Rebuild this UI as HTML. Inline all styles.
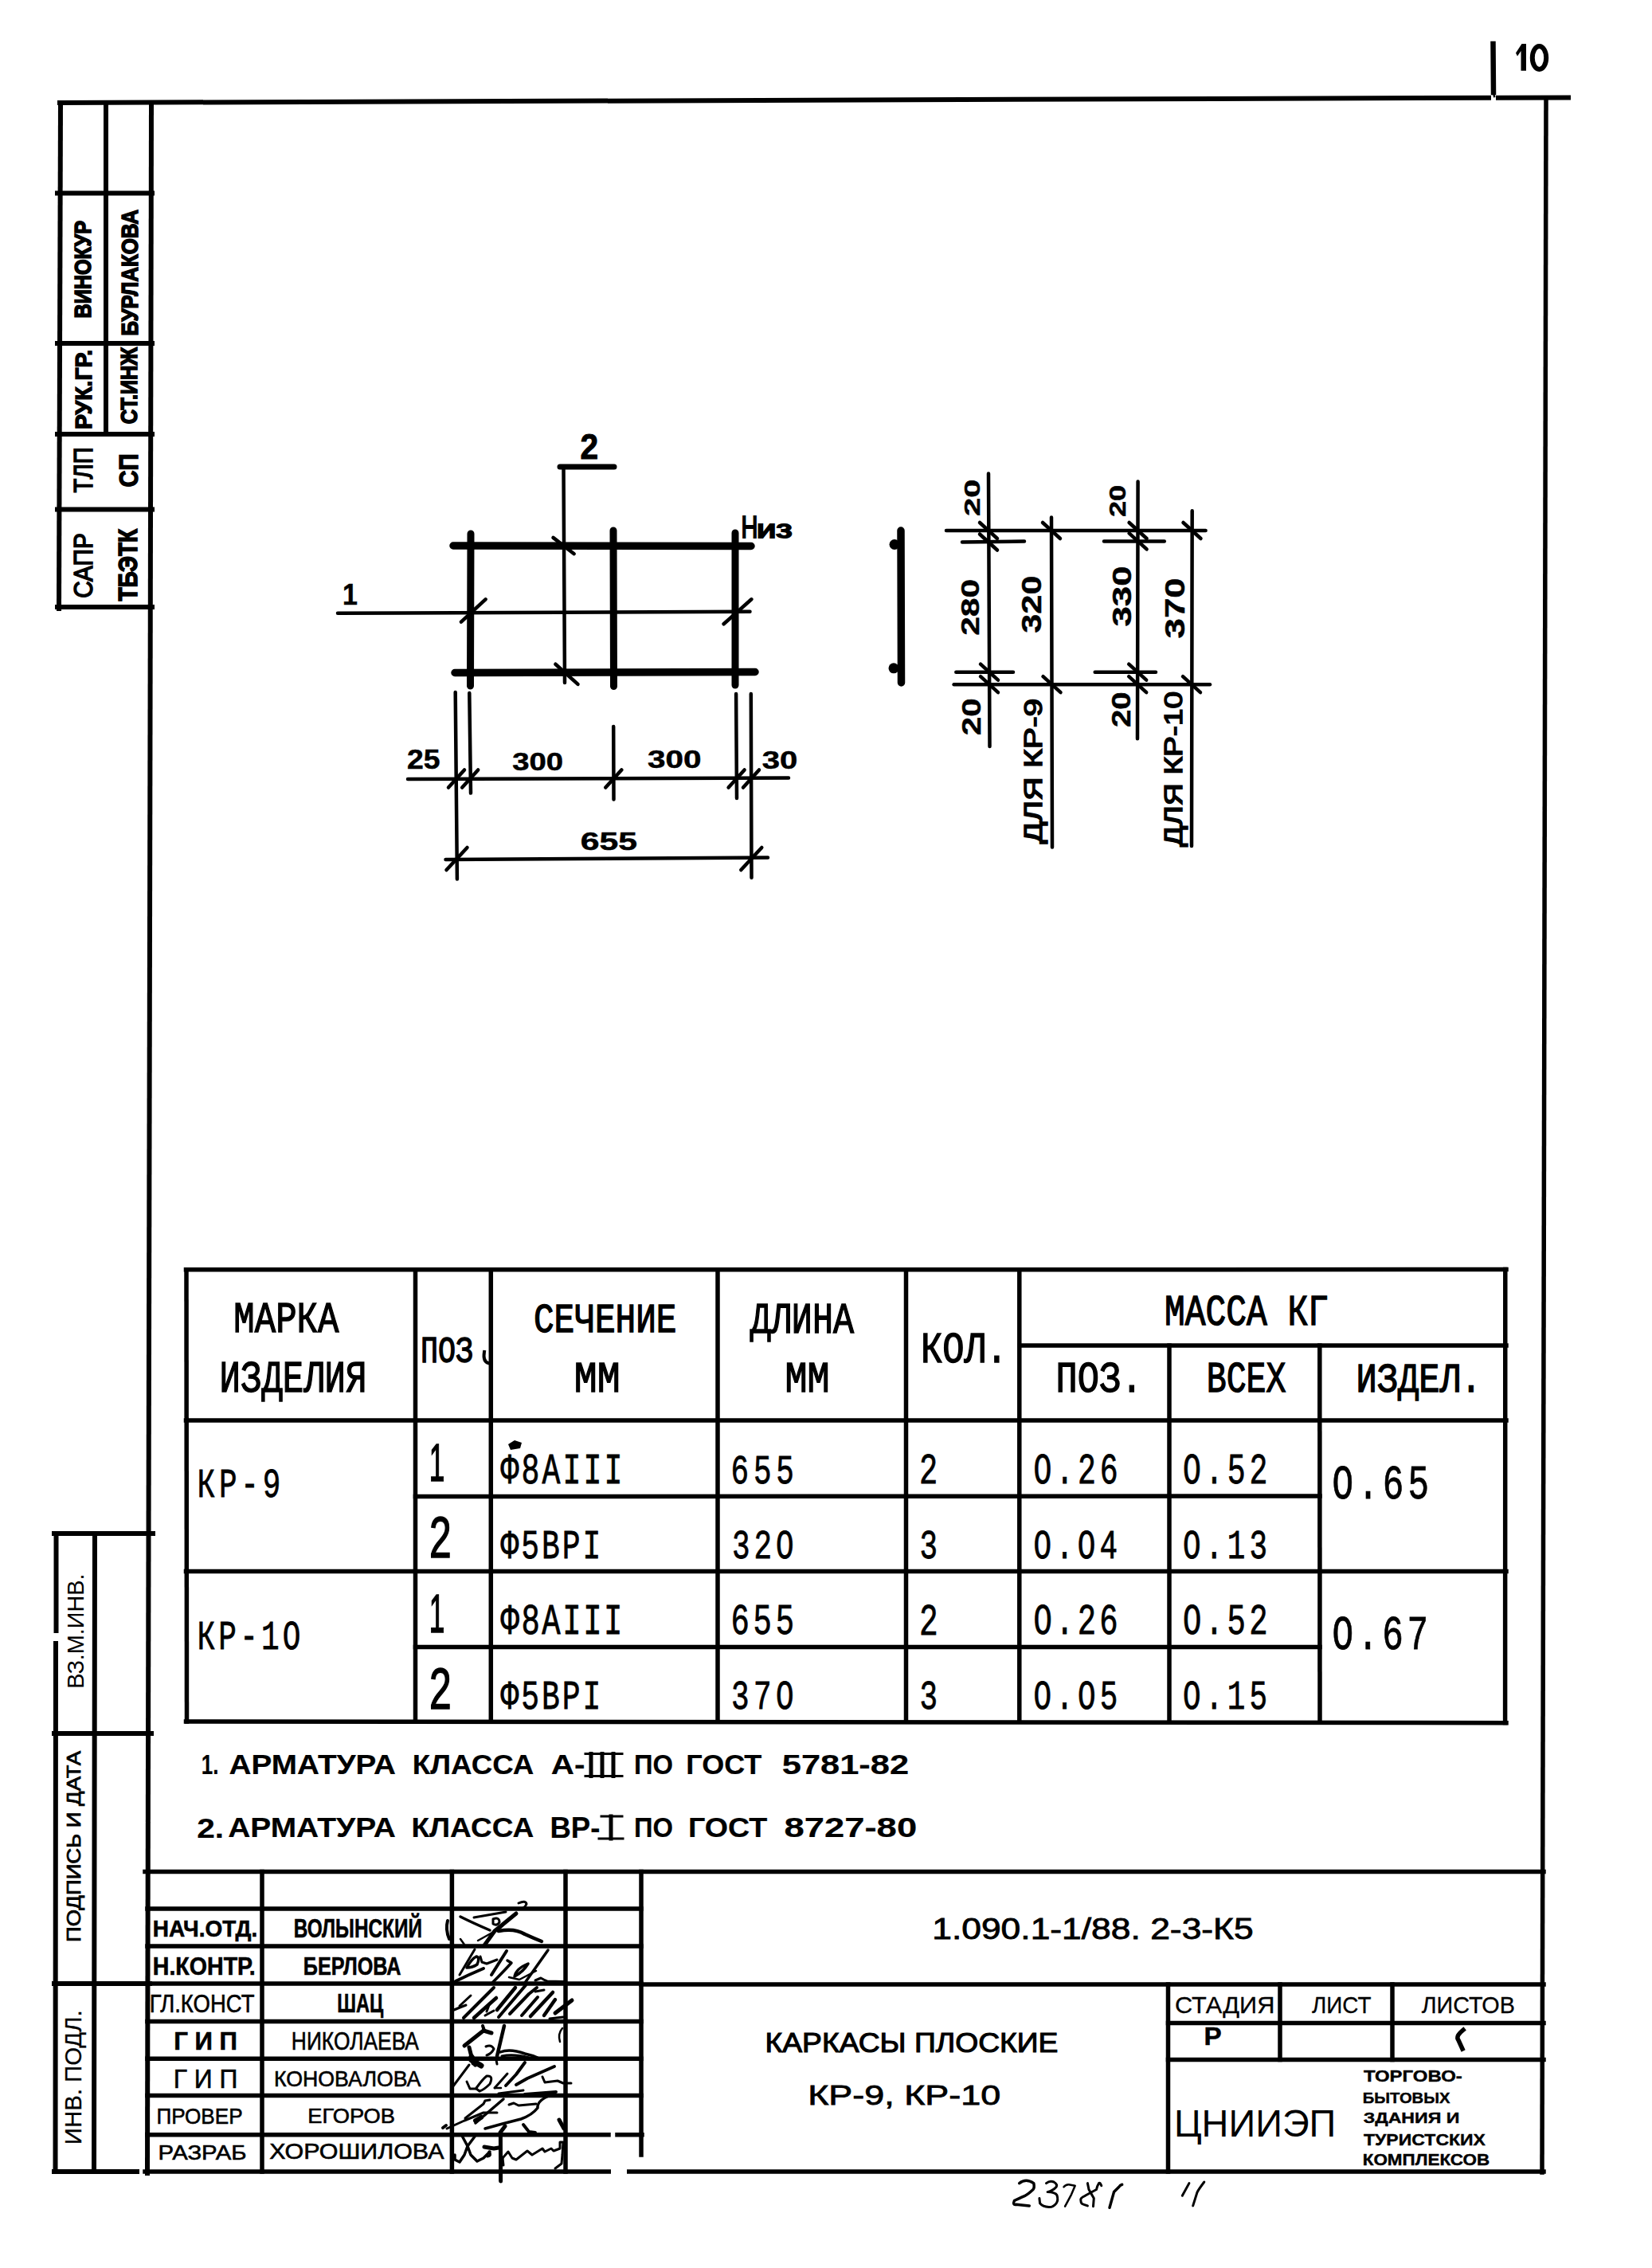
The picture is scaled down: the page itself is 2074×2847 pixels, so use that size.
<!DOCTYPE html>
<html><head><meta charset="utf-8"><style>
html,body{margin:0;padding:0;background:#fff;}
svg{display:block;}
</style></head><body>
<svg width="2074" height="2847" viewBox="0 0 2074 2847" stroke="#000" stroke-linecap="square" fill="#000">
<line x1="75" y1="129" x2="1869" y2="122.8" stroke-width="6"/>
<line x1="1881" y1="122.8" x2="1969" y2="122.6" stroke-width="6"/>
<line x1="1874.5" y1="55" x2="1875" y2="116" stroke-width="6.5"/>
<line x1="1875" y1="116" x2="1876" y2="121" stroke-width="2.5"/>
<path d="M1903,66.5 L1910.5,55 L1916,55 L1916,88.7 L1909.5,88.7 L1909.5,64 L1905,70.5 Z" stroke="none"/>
<ellipse cx="1932.5" cy="72.5" rx="8.7" ry="14.5" fill="none" stroke-width="6"/>
<line x1="1941" y1="123" x2="1936" y2="2727" stroke-width="5.5"/>
<line x1="190" y1="129" x2="185" y2="2728" stroke-width="6"/>
<line x1="182" y1="2726" x2="1938" y2="2726" stroke-width="5.5"/>
<line x1="76" y1="129" x2="74" y2="764" stroke-width="6"/>
<line x1="133" y1="129" x2="133" y2="545" stroke-width="6"/>
<line x1="72" y1="242.5" x2="191" y2="242.5" stroke-width="6"/>
<line x1="72" y1="431" x2="191" y2="431" stroke-width="6"/>
<line x1="72" y1="545" x2="191" y2="545" stroke-width="6"/>
<line x1="72" y1="639.5" x2="191" y2="639.5" stroke-width="6"/>
<line x1="72" y1="762" x2="191" y2="762" stroke-width="6"/>
<text transform="translate(113.92,398.6) rotate(-90)" x="-0.89" y="0" font-family='"Liberation Sans", sans-serif' font-size="28.81" font-weight="bold" stroke="#000" stroke-width="1.6" textLength="122.56" lengthAdjust="spacingAndGlyphs">ВИНОКУР</text>
<text transform="translate(172.61,420.5) rotate(-90)" x="-0.89" y="0" font-family='"Liberation Sans", sans-serif' font-size="29.80" font-weight="bold" stroke="#000" stroke-width="1.6" textLength="158.26" lengthAdjust="spacingAndGlyphs">БУРЛАКОВА</text>
<text transform="translate(115.00,538) rotate(-90)" x="-1.12" y="0" font-family='"Liberation Sans", sans-serif' font-size="30.24" font-weight="bold" stroke="#000" stroke-width="1.4" textLength="100.29" lengthAdjust="spacingAndGlyphs">РУК.ГР.</text>
<text transform="translate(171.91,532) rotate(-90)" x="-0.20" y="0" font-family='"Liberation Sans", sans-serif' font-size="29.52" font-weight="bold" stroke="#000" stroke-width="1.6" textLength="96.28" lengthAdjust="spacingAndGlyphs">СТ.ИНЖ</text>
<text transform="translate(115.99,618.5) rotate(-90)" x="0.11" y="0" font-family='"Liberation Sans", sans-serif' font-size="33.92" font-weight="normal" stroke="#000" stroke-width="1.5" textLength="56.91" lengthAdjust="spacingAndGlyphs">ТЛП</text>
<text transform="translate(172.97,611) rotate(-90)" x="-0.50" y="0" font-family='"Liberation Sans", sans-serif' font-size="33.62" font-weight="bold" stroke="#000" stroke-width="1.4" textLength="42.05" lengthAdjust="spacingAndGlyphs">СП</text>
<text transform="translate(115.92,750) rotate(-90)" x="-0.74" y="0" font-family='"Liberation Sans", sans-serif' font-size="33.33" font-weight="normal" stroke="#000" stroke-width="1.5" textLength="81.54" lengthAdjust="spacingAndGlyphs">САПР</text>
<text transform="translate(171.88,755) rotate(-90)" x="0.49" y="0" font-family='"Liberation Sans", sans-serif' font-size="33.05" font-weight="bold" stroke="#000" stroke-width="1.6" textLength="90.67" lengthAdjust="spacingAndGlyphs">ТБЭТК</text>
<line x1="70.5" y1="1925" x2="70.5" y2="2047" stroke-width="6"/>
<line x1="70" y1="2063" x2="69.5" y2="2726" stroke-width="6"/>
<line x1="119" y1="1925" x2="118" y2="2726" stroke-width="6"/>
<line x1="68" y1="1925" x2="192" y2="1925" stroke-width="6"/>
<line x1="68" y1="2176" x2="190" y2="2176" stroke-width="6"/>
<line x1="68" y1="2490" x2="188" y2="2490" stroke-width="6"/>
<line x1="68" y1="2726" x2="172" y2="2726" stroke-width="6"/>
<text transform="translate(105.41,2117.5) rotate(-90)" x="-2.35" y="0" font-family='"Liberation Sans", sans-serif' font-size="29.68" font-weight="normal" stroke="none" textLength="144.46" lengthAdjust="spacingAndGlyphs">ВЗ.М.ИНВ.</text>
<text transform="translate(101.10,2436.3) rotate(-90)" x="-1.79" y="0" font-family='"Liberation Sans", sans-serif' font-size="24.27" font-weight="normal" stroke="#000" stroke-width="0.8" textLength="240.04" lengthAdjust="spacingAndGlyphs">ПОДПИСЬ И ДАТА</text>
<text transform="translate(101.85,2689.9) rotate(-90)" x="-2.25" y="0" font-family='"Liberation Sans", sans-serif' font-size="29.80" font-weight="normal" stroke="#000" stroke-width="0.3" textLength="168.77" lengthAdjust="spacingAndGlyphs">ИНВ. ПОДЛ.</text>
<g stroke-linecap="round">
<line x1="569" y1="685" x2="943" y2="685.5" stroke-width="9.5"/>
<line x1="571" y1="844.5" x2="948" y2="843.5" stroke-width="9.5"/>
<line x1="591" y1="670" x2="590.5" y2="861" stroke-width="9"/>
<line x1="770" y1="666" x2="770.5" y2="861.5" stroke-width="9"/>
<line x1="923" y1="669" x2="923" y2="860" stroke-width="9"/>
<line x1="707.5" y1="586" x2="709" y2="857" stroke-width="4.5"/>
<line x1="703" y1="586" x2="771" y2="586" stroke-width="7"/>
<text x="728.49" y="576.40" font-family='"Liberation Sans", sans-serif' font-size="43.82" font-weight="bold" stroke="#000" stroke-width="1" textLength="22.64" lengthAdjust="spacingAndGlyphs">2</text>
<line x1="424" y1="769.7" x2="941.5" y2="767.8" stroke-width="4.5"/>
<text x="430.11" y="758.55" font-family='"Liberation Sans", sans-serif' font-size="37.21" font-weight="bold" stroke="#000" stroke-width="0.5" textLength="18.88" lengthAdjust="spacingAndGlyphs">1</text>
<text x="930.42" y="674.80" font-family='"Liberation Sans", sans-serif' font-size="38.95" font-weight="normal" stroke="#000" stroke-width="2" textLength="20.94" lengthAdjust="spacingAndGlyphs">Н</text>
<text x="949.97" y="674.50" font-family='"Liberation Sans", sans-serif' font-size="30.67" font-weight="normal" stroke="#000" stroke-width="2" textLength="44.48" lengthAdjust="spacingAndGlyphs">из</text>
<line x1="579" y1="780.6" x2="609.6" y2="752.3" stroke-width="4.5"/>
<line x1="908.6" y1="783.3" x2="943.4" y2="752.3" stroke-width="4.5"/>
<line x1="694.5" y1="674.9" x2="720.7" y2="695.2" stroke-width="4.5"/>
<line x1="697.4" y1="833.7" x2="725.5" y2="858.9" stroke-width="4.5"/>
<line x1="571.7" y1="869" x2="573.9" y2="1103.6" stroke-width="4.5"/>
<line x1="589.3" y1="870" x2="591" y2="995.6" stroke-width="4.5"/>
<line x1="770.2" y1="912" x2="770.5" y2="1003.6" stroke-width="4.5"/>
<line x1="924.1" y1="871" x2="925" y2="1002" stroke-width="4.5"/>
<line x1="942.8" y1="871" x2="943.5" y2="1101.7" stroke-width="4.5"/>
<line x1="512" y1="978" x2="990" y2="976.5" stroke-width="4.5"/>
<line x1="559.5" y1="1079" x2="964" y2="1076.5" stroke-width="4.5"/>
<line x1="563" y1="988.5" x2="583" y2="966.5" stroke-width="4.5"/>
<line x1="580.2" y1="988.5" x2="600.2" y2="966.5" stroke-width="4.5"/>
<line x1="760.3" y1="988.5" x2="780.3" y2="966.5" stroke-width="4.5"/>
<line x1="914.6" y1="988.5" x2="934.6" y2="966.5" stroke-width="4.5"/>
<line x1="933" y1="988.5" x2="953" y2="966.5" stroke-width="4.5"/>
<line x1="560.5" y1="1092" x2="586.5" y2="1064" stroke-width="4.5"/>
<line x1="930.3" y1="1092" x2="956.3" y2="1064" stroke-width="4.5"/>
<text x="511.06" y="965.21" font-family='"Liberation Sans", sans-serif' font-size="35.03" font-weight="bold" stroke="#000" stroke-width="0.5" textLength="41.53" lengthAdjust="spacingAndGlyphs">25</text>
<text x="643.27" y="967.10" font-family='"Liberation Sans", sans-serif' font-size="31.57" font-weight="bold" stroke="#000" stroke-width="0.5" textLength="63.85" lengthAdjust="spacingAndGlyphs">300</text>
<text x="812.92" y="963.80" font-family='"Liberation Sans", sans-serif' font-size="31.57" font-weight="bold" stroke="#000" stroke-width="0.5" textLength="67.49" lengthAdjust="spacingAndGlyphs">300</text>
<text x="956.83" y="965.39" font-family='"Liberation Sans", sans-serif' font-size="31.71" font-weight="bold" stroke="#000" stroke-width="0.5" textLength="44.56" lengthAdjust="spacingAndGlyphs">30</text>
<text x="728.69" y="1066.84" font-family='"Liberation Sans", sans-serif' font-size="31.64" font-weight="bold" stroke="#000" stroke-width="0.5" textLength="71.25" lengthAdjust="spacingAndGlyphs">655</text>
<line x1="1131" y1="666" x2="1131.5" y2="857" stroke-width="9.5"/>
<circle cx="1123" cy="683.5" r="6.5" stroke="none"/>
<circle cx="1122" cy="838.8" r="6.5" stroke="none"/>
<line x1="1241" y1="594.5" x2="1242.5" y2="937" stroke-width="4.5"/>
<line x1="1320" y1="649.6" x2="1321" y2="1063.5" stroke-width="4.5"/>
<line x1="1428.6" y1="604.5" x2="1428" y2="927.3" stroke-width="4.5"/>
<line x1="1496.7" y1="641.3" x2="1496" y2="1062" stroke-width="4.5"/>
<line x1="1188" y1="666" x2="1513.6" y2="666" stroke-width="4.5"/>
<line x1="1208" y1="680.5" x2="1286" y2="679.5" stroke-width="4.5"/>
<line x1="1386" y1="679.4" x2="1461.8" y2="679.4" stroke-width="4.5"/>
<line x1="1200.3" y1="843.7" x2="1272" y2="843.7" stroke-width="4.5"/>
<line x1="1374.7" y1="843.7" x2="1451" y2="843.7" stroke-width="4.5"/>
<line x1="1197.6" y1="859.2" x2="1519" y2="859.2" stroke-width="4.5"/>
<line x1="1230" y1="656" x2="1252" y2="676" stroke-width="4.5"/>
<line x1="1230" y1="670.5" x2="1252" y2="690.5" stroke-width="4.5"/>
<line x1="1309" y1="656" x2="1331" y2="676" stroke-width="4.5"/>
<line x1="1417.6" y1="656" x2="1439.6" y2="676" stroke-width="4.5"/>
<line x1="1417.6" y1="669.4" x2="1439.6" y2="689.4" stroke-width="4.5"/>
<line x1="1485.5" y1="656" x2="1507.5" y2="676" stroke-width="4.5"/>
<line x1="1231" y1="833.7" x2="1253" y2="853.7" stroke-width="4.5"/>
<line x1="1231" y1="849.2" x2="1253" y2="869.2" stroke-width="4.5"/>
<line x1="1309.5" y1="849.2" x2="1331.5" y2="869.2" stroke-width="4.5"/>
<line x1="1417.2" y1="833.7" x2="1439.2" y2="853.7" stroke-width="4.5"/>
<line x1="1417.2" y1="849.2" x2="1439.2" y2="869.2" stroke-width="4.5"/>
<line x1="1485" y1="849.2" x2="1507" y2="869.2" stroke-width="4.5"/>
<text transform="translate(1229.78,646.7) rotate(-90)" x="-1.19" y="0" font-family='"Liberation Sans", sans-serif' font-size="28.11" font-weight="bold" stroke="#000" stroke-width="0.5" textLength="46.35" lengthAdjust="spacingAndGlyphs">20</text>
<text transform="translate(1229.44,796.6) rotate(-90)" x="-1.22" y="0" font-family='"Liberation Sans", sans-serif' font-size="31.78" font-weight="bold" stroke="#000" stroke-width="0.5" textLength="70.81" lengthAdjust="spacingAndGlyphs">280</text>
<text transform="translate(1307.35,794) rotate(-90)" x="-0.74" y="0" font-family='"Liberation Sans", sans-serif' font-size="35.94" font-weight="bold" stroke="#000" stroke-width="0.5" textLength="72.27" lengthAdjust="spacingAndGlyphs">320</text>
<text transform="translate(1231.02,922) rotate(-90)" x="-1.20" y="0" font-family='"Liberation Sans", sans-serif' font-size="34.04" font-weight="bold" stroke="#000" stroke-width="0.5" textLength="46.68" lengthAdjust="spacingAndGlyphs">20</text>
<text transform="translate(1307.75,1059.4) rotate(-90)" x="0.45" y="0" font-family='"Liberation Sans", sans-serif' font-size="32.22" font-weight="normal" stroke="#000" stroke-width="1.5" textLength="182.13" lengthAdjust="spacingAndGlyphs">ДЛЯ КР-9</text>
<text transform="translate(1413.45,648) rotate(-90)" x="-1.00" y="0" font-family='"Liberation Sans", sans-serif' font-size="30.37" font-weight="bold" stroke="#000" stroke-width="0.5" textLength="40.24" lengthAdjust="spacingAndGlyphs">20</text>
<text transform="translate(1420.37,785.7) rotate(-90)" x="-0.80" y="0" font-family='"Liberation Sans", sans-serif' font-size="33.83" font-weight="bold" stroke="#000" stroke-width="0.5" textLength="76.12" lengthAdjust="spacingAndGlyphs">330</text>
<text transform="translate(1487.05,800.6) rotate(-90)" x="-0.80" y="0" font-family='"Liberation Sans", sans-serif' font-size="35.80" font-weight="bold" stroke="#000" stroke-width="0.5" textLength="76.01" lengthAdjust="spacingAndGlyphs">370</text>
<text transform="translate(1419.02,912) rotate(-90)" x="-1.14" y="0" font-family='"Liberation Sans", sans-serif' font-size="34.04" font-weight="bold" stroke="#000" stroke-width="0.5" textLength="44.53" lengthAdjust="spacingAndGlyphs">20</text>
<text transform="translate(1484.25,1063.5) rotate(-90)" x="0.47" y="0" font-family='"Liberation Sans", sans-serif' font-size="32.22" font-weight="normal" stroke="#000" stroke-width="1.5" textLength="195.10" lengthAdjust="spacingAndGlyphs">ДЛЯ КР-10</text>
</g>
<line x1="233.5" y1="1593.8" x2="1891" y2="1593.6" stroke-width="5.5"/>
<line x1="234" y1="1593.8" x2="234.5" y2="2161" stroke-width="5.5"/>
<line x1="1889.8" y1="1593.6" x2="1889.6" y2="2162.5" stroke-width="5.5"/>
<line x1="233.5" y1="2161" x2="1891" y2="2162.7" stroke-width="5.5"/>
<line x1="233.5" y1="1783" x2="1891" y2="1783" stroke-width="5.5"/>
<line x1="1280.5" y1="1689" x2="1891" y2="1689" stroke-width="5.5"/>
<line x1="521.5" y1="1878.5" x2="1657" y2="1878" stroke-width="5.5"/>
<line x1="233.5" y1="1972.6" x2="1891" y2="1972.4" stroke-width="5.5"/>
<line x1="521.5" y1="2067.5" x2="1657" y2="2067.5" stroke-width="5.5"/>
<line x1="521.5" y1="1593.8" x2="521.5" y2="2161" stroke-width="5.5"/>
<line x1="616.3" y1="1593.8" x2="616.3" y2="2161" stroke-width="5.5"/>
<line x1="901" y1="1593.8" x2="901" y2="2161" stroke-width="5.5"/>
<line x1="1137.5" y1="1593.8" x2="1137.5" y2="2161" stroke-width="5.5"/>
<line x1="1279.8" y1="1593.8" x2="1279.8" y2="2161" stroke-width="5.5"/>
<line x1="1468" y1="1689" x2="1468" y2="2161" stroke-width="5.5"/>
<line x1="1656.8" y1="1689" x2="1657" y2="2161" stroke-width="5.5"/>
<text x="293.33" y="1671.90" font-family='"Liberation Mono", monospace' font-size="52.98" font-weight="normal" stroke="#000" stroke-width="1.4" textLength="132.09" lengthAdjust="spacingAndGlyphs">МАРКА</text>
<text x="275.62" y="1747.00" font-family='"Liberation Mono", monospace' font-size="54.81" font-weight="normal" stroke="#000" stroke-width="1.4" textLength="184.76" lengthAdjust="spacingAndGlyphs">ИЗДЕЛИЯ</text>
<text x="527.99" y="1710.25" font-family='"Liberation Mono", monospace' font-size="46.12" font-weight="normal" stroke="#000" stroke-width="1.4" textLength="66.18" lengthAdjust="spacingAndGlyphs">ПОЗ</text>
<path d="M608,1697 Q606,1709 613,1711" stroke-width="4" fill="none"/>
<text x="669.94" y="1671.99" font-family='"Liberation Mono", monospace' font-size="51.86" font-weight="normal" stroke="#000" stroke-width="1.4" textLength="179.59" lengthAdjust="spacingAndGlyphs">СЕЧЕНИЕ</text>
<text x="720.86" y="1747.40" font-family='"Liberation Mono", monospace' font-size="53.44" font-weight="normal" stroke="#000" stroke-width="1.4" textLength="57.90" lengthAdjust="spacingAndGlyphs">ММ</text>
<text x="941.79" y="1672.50" font-family='"Liberation Mono", monospace' font-size="53.44" font-weight="normal" stroke="#000" stroke-width="1.4" textLength="130.23" lengthAdjust="spacingAndGlyphs">ДЛИНА</text>
<text x="985.56" y="1747.40" font-family='"Liberation Mono", monospace' font-size="53.44" font-weight="normal" stroke="#000" stroke-width="1.4" textLength="56.11" lengthAdjust="spacingAndGlyphs">ММ</text>
<text x="1155.97" y="1709.78" font-family='"Liberation Mono", monospace' font-size="53.19" font-weight="normal" stroke="#000" stroke-width="1.4" textLength="109.08" lengthAdjust="spacingAndGlyphs">КОЛ.</text>
<text x="1462.00" y="1663.38" font-family='"Liberation Mono", monospace' font-size="52.89" font-weight="normal" stroke="#000" stroke-width="1.4" textLength="206.09" lengthAdjust="spacingAndGlyphs">МАССА КГ</text>
<text x="1325.61" y="1747.38" font-family='"Liberation Mono", monospace' font-size="53.34" font-weight="normal" stroke="#000" stroke-width="1.4" textLength="108.92" lengthAdjust="spacingAndGlyphs">ПОЗ.</text>
<text x="1514.71" y="1747.28" font-family='"Liberation Mono", monospace' font-size="52.89" font-weight="normal" stroke="#000" stroke-width="1.4" textLength="99.82" lengthAdjust="spacingAndGlyphs">ВСЕХ</text>
<text x="1702.54" y="1747.00" font-family='"Liberation Mono", monospace' font-size="51.62" font-weight="normal" stroke="#000" stroke-width="1.4" textLength="157.50" lengthAdjust="spacingAndGlyphs">ИЗДЕЛ.</text>
<text transform="translate(247.61,1878.99) scale(0.72,1)" x="0" y="0" font-family='"Liberation Mono", monospace' font-size="52.31" font-weight="normal" stroke="#000" stroke-width="0.8" letter-spacing="6.62">КР-9</text>
<text transform="translate(247.60,2069.69) scale(0.72,1)" x="0" y="0" font-family='"Liberation Mono", monospace' font-size="52.45" font-weight="normal" stroke="#000" stroke-width="0.8" letter-spacing="5.72">КР-1O</text>
<text x="538.86" y="1859.45" font-family='"Liberation Sans", sans-serif' font-size="65.99" font-weight="normal" stroke="#000" stroke-width="1.5" textLength="19.61" lengthAdjust="spacingAndGlyphs">1</text>
<text x="539.04" y="1954.75" font-family='"Liberation Sans", sans-serif' font-size="71.61" font-weight="normal" stroke="#000" stroke-width="1.5" textLength="27.71" lengthAdjust="spacingAndGlyphs">2</text>
<text x="538.86" y="2048.65" font-family='"Liberation Sans", sans-serif' font-size="68.17" font-weight="normal" stroke="#000" stroke-width="1.5" textLength="19.61" lengthAdjust="spacingAndGlyphs">1</text>
<text x="539.04" y="2145.45" font-family='"Liberation Sans", sans-serif' font-size="71.47" font-weight="normal" stroke="#000" stroke-width="1.5" textLength="27.71" lengthAdjust="spacingAndGlyphs">2</text>
<text transform="translate(628.45,1861.58) scale(0.72,1)" x="0" y="0" font-family='"Liberation Mono", monospace' font-size="53.04" font-weight="normal" stroke="#000" stroke-width="0.8" letter-spacing="4.29">Ф8АIII</text>
<text transform="translate(628.45,1955.89) scale(0.72,1)" x="0" y="0" font-family='"Liberation Mono", monospace' font-size="52.72" font-weight="normal" stroke="#000" stroke-width="0.8" letter-spacing="4.18">Ф5ВРI</text>
<text transform="translate(628.45,2051.37) scale(0.72,1)" x="0" y="0" font-family='"Liberation Mono", monospace' font-size="54.07" font-weight="normal" stroke="#000" stroke-width="0.8" letter-spacing="3.57">Ф8АIII</text>
<text transform="translate(628.45,2144.59) scale(0.72,1)" x="0" y="0" font-family='"Liberation Mono", monospace' font-size="52.72" font-weight="normal" stroke="#000" stroke-width="0.8" letter-spacing="4.18">Ф5ВРI</text>
<text transform="translate(917.62,1861.69) scale(0.72,1)" x="0" y="0" font-family='"Liberation Mono", monospace' font-size="52.31" font-weight="normal" stroke="#000" stroke-width="0.8" letter-spacing="8.03">655</text>
<text transform="translate(919.05,1956.09) scale(0.72,1)" x="0" y="0" font-family='"Liberation Mono", monospace' font-size="52.31" font-weight="normal" stroke="#000" stroke-width="0.8" letter-spacing="6.70">32O</text>
<text transform="translate(917.53,2051.37) scale(0.72,1)" x="0" y="0" font-family='"Liberation Mono", monospace' font-size="54.07" font-weight="normal" stroke="#000" stroke-width="0.8" letter-spacing="6.56">655</text>
<text transform="translate(918.05,2144.59) scale(0.72,1)" x="0" y="0" font-family='"Liberation Mono", monospace' font-size="52.31" font-weight="normal" stroke="#000" stroke-width="0.8" letter-spacing="7.40">37O</text>
<text transform="translate(1154.08,1862.10) scale(0.72,1)" x="0" y="0" font-family='"Liberation Mono", monospace' font-size="53.82" font-weight="normal" stroke="#000" stroke-width="0.8" letter-spacing="0.00">2</text>
<text transform="translate(1154.45,1955.89) scale(0.72,1)" x="0" y="0" font-family='"Liberation Mono", monospace' font-size="52.31" font-weight="normal" stroke="#000" stroke-width="0.8" letter-spacing="0.00">3</text>
<text transform="translate(1154.02,2051.90) scale(0.72,1)" x="0" y="0" font-family='"Liberation Mono", monospace' font-size="54.86" font-weight="normal" stroke="#000" stroke-width="0.8" letter-spacing="0.00">2</text>
<text transform="translate(1154.45,2144.59) scale(0.72,1)" x="0" y="0" font-family='"Liberation Mono", monospace' font-size="52.31" font-weight="normal" stroke="#000" stroke-width="0.8" letter-spacing="0.00">3</text>
<text transform="translate(1297.50,1861.58) scale(0.72,1)" x="0" y="0" font-family='"Liberation Mono", monospace' font-size="53.04" font-weight="normal" stroke="#000" stroke-width="0.8" letter-spacing="6.67">O.26</text>
<text transform="translate(1297.52,1955.89) scale(0.72,1)" x="0" y="0" font-family='"Liberation Mono", monospace' font-size="52.31" font-weight="normal" stroke="#000" stroke-width="0.8" letter-spacing="6.99">O.O4</text>
<text transform="translate(1297.46,2051.37) scale(0.72,1)" x="0" y="0" font-family='"Liberation Mono", monospace' font-size="54.07" font-weight="normal" stroke="#000" stroke-width="0.8" letter-spacing="5.89">O.26</text>
<text transform="translate(1297.52,2144.59) scale(0.72,1)" x="0" y="0" font-family='"Liberation Mono", monospace' font-size="52.31" font-weight="normal" stroke="#000" stroke-width="0.8" letter-spacing="7.21">O.O5</text>
<text transform="translate(1485.10,1861.58) scale(0.72,1)" x="0" y="0" font-family='"Liberation Mono", monospace' font-size="53.04" font-weight="normal" stroke="#000" stroke-width="0.8" letter-spacing="6.82">O.52</text>
<text transform="translate(1485.12,1955.89) scale(0.72,1)" x="0" y="0" font-family='"Liberation Mono", monospace' font-size="52.31" font-weight="normal" stroke="#000" stroke-width="0.8" letter-spacing="7.25">O.13</text>
<text transform="translate(1485.06,2051.37) scale(0.72,1)" x="0" y="0" font-family='"Liberation Mono", monospace' font-size="54.07" font-weight="normal" stroke="#000" stroke-width="0.8" letter-spacing="6.04">O.52</text>
<text transform="translate(1485.12,2144.59) scale(0.72,1)" x="0" y="0" font-family='"Liberation Mono", monospace' font-size="52.31" font-weight="normal" stroke="#000" stroke-width="0.8" letter-spacing="7.25">O.15</text>
<text transform="translate(1672.59,1880.90) scale(0.72,1)" x="0" y="0" font-family='"Liberation Mono", monospace' font-size="61.59" font-weight="normal" stroke="#000" stroke-width="0.8" letter-spacing="6.94">O.65</text>
<text transform="translate(1672.59,2070.00) scale(0.72,1)" x="0" y="0" font-family='"Liberation Mono", monospace' font-size="61.73" font-weight="normal" stroke="#000" stroke-width="0.8" letter-spacing="6.48">O.67</text>
<path d="M638,1813 l8,-5 l9,3 l-2,7 l-12,2 z" stroke="none"/>
<text x="252.66" y="2227.40" font-family='"Liberation Sans", sans-serif' font-size="35.61" font-weight="bold" stroke="#000" stroke-width="0.2" textLength="21.74" lengthAdjust="spacingAndGlyphs">1.</text>
<text x="287.46" y="2227.06" font-family='"Liberation Sans", sans-serif' font-size="35.11" font-weight="bold" stroke="#000" stroke-width="0.2" textLength="209.43" lengthAdjust="spacingAndGlyphs">АРМАТУРА</text>
<text x="517.87" y="2227.06" font-family='"Liberation Sans", sans-serif' font-size="34.60" font-weight="bold" stroke="#000" stroke-width="0.2" textLength="152.49" lengthAdjust="spacingAndGlyphs">КЛАССА</text>
<text x="691.89" y="2227.40" font-family='"Liberation Sans", sans-serif' font-size="35.61" font-weight="bold" stroke="#000" stroke-width="0.2" textLength="42.62" lengthAdjust="spacingAndGlyphs">А-</text>
<line x1="735" y1="2201.5" x2="781" y2="2201.5" stroke-width="3"/>
<line x1="735" y1="2229.5" x2="781" y2="2229.5" stroke-width="3"/>
<line x1="742" y1="2201.5" x2="742" y2="2229.5" stroke-width="5"/>
<line x1="756" y1="2201.5" x2="756" y2="2229.5" stroke-width="5"/>
<line x1="770" y1="2201.5" x2="770" y2="2229.5" stroke-width="5"/>
<text x="795.91" y="2227.06" font-family='"Liberation Sans", sans-serif' font-size="34.60" font-weight="bold" stroke="#000" stroke-width="0.2" textLength="48.96" lengthAdjust="spacingAndGlyphs">ПО</text>
<text x="861.23" y="2227.06" font-family='"Liberation Sans", sans-serif' font-size="34.60" font-weight="bold" stroke="#000" stroke-width="0.2" textLength="95.06" lengthAdjust="spacingAndGlyphs">ГОСТ</text>
<text x="981.76" y="2227.06" font-family='"Liberation Sans", sans-serif' font-size="34.60" font-weight="bold" stroke="#000" stroke-width="0.2" textLength="159.37" lengthAdjust="spacingAndGlyphs">5781-82</text>
<text x="247.19" y="2306.50" font-family='"Liberation Sans", sans-serif' font-size="35.66" font-weight="bold" stroke="#000" stroke-width="0.2" textLength="33.91" lengthAdjust="spacingAndGlyphs">2.</text>
<text x="286.16" y="2306.15" font-family='"Liberation Sans", sans-serif' font-size="35.69" font-weight="bold" stroke="#000" stroke-width="0.2" textLength="210.74" lengthAdjust="spacingAndGlyphs">АРМАТУРА</text>
<text x="516.45" y="2306.16" font-family='"Liberation Sans", sans-serif' font-size="35.17" font-weight="bold" stroke="#000" stroke-width="0.2" textLength="153.92" lengthAdjust="spacingAndGlyphs">КЛАССА</text>
<text x="690.46" y="2306.50" font-family='"Liberation Sans", sans-serif' font-size="36.19" font-weight="bold" stroke="#000" stroke-width="0.2" textLength="62.91" lengthAdjust="spacingAndGlyphs">ВР-</text>
<line x1="755" y1="2280" x2="781" y2="2280" stroke-width="3"/>
<line x1="752" y1="2308" x2="782" y2="2308" stroke-width="3"/>
<line x1="767" y1="2280" x2="767" y2="2308" stroke-width="5"/>
<text x="795.91" y="2306.16" font-family='"Liberation Sans", sans-serif' font-size="35.17" font-weight="bold" stroke="#000" stroke-width="0.2" textLength="48.96" lengthAdjust="spacingAndGlyphs">ПО</text>
<text x="863.92" y="2306.16" font-family='"Liberation Sans", sans-serif' font-size="35.17" font-weight="bold" stroke="#000" stroke-width="0.2" textLength="99.38" lengthAdjust="spacingAndGlyphs">ГОСТ</text>
<text x="984.46" y="2306.16" font-family='"Liberation Sans", sans-serif' font-size="35.17" font-weight="bold" stroke="#000" stroke-width="0.2" textLength="166.70" lengthAdjust="spacingAndGlyphs">8727-80</text>
<line x1="182" y1="2349.5" x2="1938" y2="2349.5" stroke-width="5.5"/>
<line x1="185" y1="2396" x2="805" y2="2396" stroke-width="5.5"/>
<line x1="185" y1="2443" x2="805" y2="2443" stroke-width="5.5"/>
<line x1="185" y1="2490" x2="805" y2="2490" stroke-width="5.5"/>
<line x1="185" y1="2537.5" x2="805" y2="2537.5" stroke-width="5.5"/>
<line x1="185" y1="2584.3" x2="805" y2="2584.3" stroke-width="5.5"/>
<line x1="185" y1="2630.6" x2="805" y2="2630.6" stroke-width="5.5"/>
<line x1="185" y1="2679.8" x2="764" y2="2679.8" stroke-width="5.5"/>
<line x1="775" y1="2679.8" x2="806" y2="2679.8" stroke-width="5.5"/>
<line x1="805" y1="2491" x2="1938" y2="2491" stroke-width="5.5"/>
<line x1="329" y1="2349.5" x2="329" y2="2726" stroke-width="5.5"/>
<line x1="567.4" y1="2349.5" x2="567.4" y2="2726" stroke-width="5.5"/>
<line x1="710" y1="2349.5" x2="710" y2="2726" stroke-width="5.5"/>
<line x1="805" y1="2349.5" x2="805" y2="2705" stroke-width="5.5"/>
<line x1="1466.5" y1="2491" x2="1466.5" y2="2726" stroke-width="5.5"/>
<line x1="1466.5" y1="2539.5" x2="1938" y2="2539.5" stroke-width="5.5"/>
<line x1="1466.5" y1="2585.5" x2="1938" y2="2585.5" stroke-width="5.5"/>
<line x1="1607" y1="2491" x2="1607" y2="2585.5" stroke-width="5.5"/>
<line x1="1748" y1="2491" x2="1748" y2="2585.5" stroke-width="5.5"/>
<rect x="767" y="2721" width="20" height="10" fill="#fff" stroke="none"/>
<text x="191.77" y="2430.50" font-family='"Liberation Sans", sans-serif' font-size="29.07" font-weight="bold" stroke="#000" stroke-width="0.6" textLength="131.41" lengthAdjust="spacingAndGlyphs">НАЧ.ОТД.</text>
<text x="191.75" y="2478.59" font-family='"Liberation Sans", sans-serif' font-size="31.64" font-weight="bold" stroke="#000" stroke-width="0.6" textLength="129.05" lengthAdjust="spacingAndGlyphs">Н.КОНТР.</text>
<text x="187.79" y="2525.79" font-family='"Liberation Sans", sans-serif' font-size="31.64" font-weight="normal" stroke="#000" stroke-width="0.6" textLength="131.73" lengthAdjust="spacingAndGlyphs">ГЛ.КОНСТ</text>
<text x="218.22" y="2573.30" font-family='"Liberation Sans", sans-serif' font-size="30.81" font-weight="bold" stroke="#000" stroke-width="0.6" textLength="79.77" lengthAdjust="spacingAndGlyphs">Г И П</text>
<text x="217.69" y="2620.50" font-family='"Liberation Sans", sans-serif' font-size="32.54" font-weight="normal" stroke="#000" stroke-width="0.6" textLength="80.73" lengthAdjust="spacingAndGlyphs">Г И П</text>
<text x="196.39" y="2666.22" font-family='"Liberation Sans", sans-serif' font-size="28.25" font-weight="normal" stroke="#000" stroke-width="0.6" textLength="108.18" lengthAdjust="spacingAndGlyphs">ПРОВЕР</text>
<text x="198.58" y="2711.04" font-family='"Liberation Sans", sans-serif' font-size="26.57" font-weight="normal" stroke="#000" stroke-width="0.6" textLength="110.88" lengthAdjust="spacingAndGlyphs">РАЗРАБ</text>
<text x="368.68" y="2431.70" font-family='"Liberation Sans", sans-serif' font-size="32.56" font-weight="bold" stroke="#000" stroke-width="0.6" textLength="161.33" lengthAdjust="spacingAndGlyphs">ВОЛЫНСКИЙ</text>
<text x="380.85" y="2478.59" font-family='"Liberation Sans", sans-serif' font-size="31.64" font-weight="bold" stroke="#000" stroke-width="0.6" textLength="122.70" lengthAdjust="spacingAndGlyphs">БЕРЛОВА</text>
<text x="423.32" y="2526.10" font-family='"Liberation Sans", sans-serif' font-size="32.56" font-weight="bold" stroke="#000" stroke-width="0.6" textLength="58.05" lengthAdjust="spacingAndGlyphs">ШАЦ</text>
<text x="365.86" y="2572.99" font-family='"Liberation Sans", sans-serif' font-size="31.64" font-weight="normal" stroke="#000" stroke-width="0.6" textLength="160.10" lengthAdjust="spacingAndGlyphs">НИКОЛАЕВА</text>
<text x="344.03" y="2619.02" font-family='"Liberation Sans", sans-serif' font-size="28.25" font-weight="normal" stroke="#000" stroke-width="0.6" textLength="184.42" lengthAdjust="spacingAndGlyphs">КОНОВАЛОВА</text>
<text x="386.31" y="2665.04" font-family='"Liberation Sans", sans-serif' font-size="26.55" font-weight="normal" stroke="#000" stroke-width="0.6" textLength="109.60" lengthAdjust="spacingAndGlyphs">ЕГОРОВ</text>
<text x="338.22" y="2709.83" font-family='"Liberation Sans", sans-serif' font-size="27.97" font-weight="normal" stroke="#000" stroke-width="0.6" textLength="219.23" lengthAdjust="spacingAndGlyphs">ХОРОШИЛОВА</text>
<text x="1170.22" y="2434.25" font-family='"Liberation Sans", sans-serif' font-size="36.09" font-weight="normal" stroke="#000" stroke-width="0.8" textLength="403.45" lengthAdjust="spacingAndGlyphs">1.090.1-1/88. 2-3-К5</text>
<text x="960.50" y="2576.31" font-family='"Liberation Sans", sans-serif' font-size="34.32" font-weight="normal" stroke="#000" stroke-width="1.1" textLength="367.95" lengthAdjust="spacingAndGlyphs">КАРКАСЫ ПЛОСКИЕ</text>
<text x="1014.22" y="2642.20" font-family='"Liberation Sans", sans-serif' font-size="35.76" font-weight="normal" stroke="#000" stroke-width="0.8" textLength="241.94" lengthAdjust="spacingAndGlyphs">КР-9, КР-10</text>
<text x="1474.90" y="2527.35" font-family='"Liberation Sans", sans-serif' font-size="29.36" font-weight="normal" stroke="#000" stroke-width="0.3" textLength="125.43" lengthAdjust="spacingAndGlyphs">СТАДИЯ</text>
<text x="1646.91" y="2527.07" font-family='"Liberation Sans", sans-serif' font-size="28.95" font-weight="normal" stroke="#000" stroke-width="0.3" textLength="74.57" lengthAdjust="spacingAndGlyphs">ЛИСТ</text>
<text x="1784.70" y="2527.07" font-family='"Liberation Sans", sans-serif' font-size="28.95" font-weight="normal" stroke="#000" stroke-width="0.3" textLength="117.14" lengthAdjust="spacingAndGlyphs">ЛИСТОВ</text>
<text x="1511.43" y="2567.25" font-family='"Liberation Sans", sans-serif' font-size="31.98" font-weight="bold" stroke="#000" stroke-width="0.5" textLength="22.16" lengthAdjust="spacingAndGlyphs">Р</text>
<path d="M1837,2548 Q1827,2556 1831,2561 L1836,2572" stroke-width="5.5" fill="none"/>
<text x="1473.95" y="2682.00" font-family='"Liberation Sans", sans-serif' font-size="47.26" font-weight="normal" stroke="none" textLength="203.36" lengthAdjust="spacingAndGlyphs">ЦНИИЭП</text>
<text x="1711.93" y="2613.10" font-family='"Liberation Sans", sans-serif' font-size="20.34" font-weight="bold" stroke="#000" stroke-width="0.4" textLength="123.81" lengthAdjust="spacingAndGlyphs">ТОРГОВО-</text>
<text x="1710.86" y="2639.63" font-family='"Liberation Sans", sans-serif' font-size="17.80" font-weight="bold" stroke="#000" stroke-width="0.4" textLength="109.52" lengthAdjust="spacingAndGlyphs">БЫТОВЫХ</text>
<text x="1711.68" y="2664.80" font-family='"Liberation Sans", sans-serif' font-size="18.06" font-weight="bold" stroke="#000" stroke-width="0.4" textLength="120.67" lengthAdjust="spacingAndGlyphs">ЗДАНИЯ И</text>
<text x="1711.94" y="2693.20" font-family='"Liberation Sans", sans-serif' font-size="20.34" font-weight="bold" stroke="#000" stroke-width="0.4" textLength="153.06" lengthAdjust="spacingAndGlyphs">ТУРИСТСКИХ</text>
<text x="1710.71" y="2718.40" font-family='"Liberation Sans", sans-serif' font-size="20.34" font-weight="bold" stroke="#000" stroke-width="0.4" textLength="159.51" lengthAdjust="spacingAndGlyphs">КОМПЛЕКСОВ</text>
<g fill="none" stroke-linecap="round" stroke-linejoin="round">
<path d="M1279.7,2740.6 Q1288,2734 1297.8,2740.6 Q1299,2746 1297,2748.5 Q1290,2755 1286.8,2756.3 Q1278,2760 1273.4,2762.6 Q1271,2768 1275.7,2767.3 L1292.3,2768.9" stroke-width="3.5" fill="none"/>
<path d="M1313.5,2740.6 Q1318,2737 1323,2739 Q1328,2742 1326.1,2745.3 Q1322,2750 1315.1,2751.6 Q1325,2752 1326.9,2755.5 Q1329,2762 1326.1,2765.8 Q1322,2771 1316.7,2770.5 Q1309,2770 1305.6,2765.8 L1304.9,2759.5" stroke-width="3" fill="none"/>
<path d="M1335.5,2745.3 Q1338,2742 1341.8,2742.2 L1349.7,2743.7 L1345,2754.8 L1337.1,2769.7" stroke-width="2.5" fill="none"/>
<path d="M1365.4,2740.6 L1367,2748.5 L1373.3,2759.5 L1372.5,2769.7" stroke-width="3" fill="none"/>
<path d="M1382.8,2743.7 Q1381,2739 1379.6,2740.6 Q1377,2745 1376.5,2748.5 Q1368,2753 1362.3,2756.3 Q1356,2759 1356.8,2761.8 Q1357,2767 1360.7,2767.3 L1365.4,2768.9" stroke-width="3" fill="none"/>
<path d="M1408.7,2742.2 Q1406,2743 1404.8,2745.3 L1398.5,2751.6 L1393,2771.3" stroke-width="3.5" fill="none"/>
<path d="M1492.9,2740.6 L1484.3,2756.3" stroke-width="3" fill="none"/>
<path d="M1511.8,2739 Q1505,2748 1503,2752 L1497.7,2768.9" stroke-width="3" fill="none"/>
</g>
<g stroke-linecap="round" stroke-linejoin="round" fill="none">
<path d="M578,2406 Q594,2414 615,2423" stroke-width="3.5" fill="none"/>
<path d="M595,2407 L635,2400" stroke-width="3" fill="none"/>
<path d="M608,2442 L621,2424 L648,2402" stroke-width="5" fill="none"/>
<path d="M625,2423 L646,2403" stroke-width="2.5" fill="none"/>
<path d="M600,2436 L618,2426" stroke-width="2.5" fill="none"/>
<path d="M619,2409 Q627,2406 627,2413 Q624,2418 619,2415 Z" stroke-width="3" fill="none"/>
<path d="M626,2424 Q646,2420 659,2428 Q670,2433 680,2437" stroke-width="4.5" fill="none"/>
<path d="M651,2389 Q660,2385 661,2390 Q659,2395 654,2396" stroke-width="3" fill="none"/>
<path d="M562,2411 Q559,2422 564,2434" stroke-width="4" fill="none"/>
<path d="M578,2434 L583,2441" stroke-width="2.5" fill="none"/>
<path d="M577,2479 L596,2447" stroke-width="3" fill="none"/>
<path d="M586,2470 Q592,2459 598,2456 Q603,2457 599,2466 Q593,2470 586,2470" stroke-width="3.5" fill="none"/>
<path d="M603,2456 L605,2463 L611,2465 L624,2460" stroke-width="3" fill="none"/>
<path d="M572,2487 Q588,2479 607,2471" stroke-width="4" fill="none"/>
<path d="M617,2479 L636,2449" stroke-width="4" fill="none"/>
<path d="M618,2489 Q632,2475 642,2464 L637,2461" stroke-width="3.5" fill="none"/>
<path d="M646,2481 Q648,2471 663,2465 Q657,2475 646,2481" stroke-width="3.5" fill="none"/>
<path d="M639,2482 L652,2485 L673,2474" stroke-width="2.5" fill="none"/>
<path d="M659,2489 L688,2448" stroke-width="3.5" fill="none"/>
<path d="M672,2486 L679,2483 Q684,2486 687,2487 L708,2487.5" stroke-width="3" fill="none"/>
<path d="M570,2523 Q577,2520 585,2517" stroke-width="3" fill="none"/>
<path d="M577,2518 L591,2505" stroke-width="3" fill="none"/>
<path d="M582,2533 L620,2495" stroke-width="4" fill="none"/>
<path d="M595,2533 L614,2516 L623,2508" stroke-width="4.5" fill="none"/>
<path d="M609,2530 L620,2524" stroke-width="3" fill="none"/>
<path d="M611,2525 L614,2517" stroke-width="3" fill="none"/>
<path d="M624,2523 L647,2495" stroke-width="4.5" fill="none"/>
<path d="M626,2532 L660,2492" stroke-width="4" fill="none"/>
<path d="M640,2528 L664,2503 L674,2495" stroke-width="4" fill="none"/>
<path d="M655,2530 L675,2507" stroke-width="4" fill="none"/>
<path d="M666,2531 L694,2501" stroke-width="4.5" fill="none"/>
<path d="M683,2530 L697,2510" stroke-width="4.5" fill="none"/>
<path d="M697,2527 L718,2511" stroke-width="5" fill="none"/>
<path d="M672,2500 L683,2498" stroke-width="3" fill="none"/>
<path d="M690,2534 L707,2532" stroke-width="3" fill="none"/>
<path d="M583,2568 L607,2549 L617,2552" stroke-width="5" fill="none"/>
<path d="M606,2543 L608,2549" stroke-width="4" fill="none"/>
<path d="M589,2570 L594,2590" stroke-width="5" fill="none"/>
<path d="M633,2543 L624,2581" stroke-width="4.5" fill="none"/>
<path d="M610,2569 Q617,2566 620,2572 Q617,2578 611,2580" stroke-width="3" fill="none"/>
<path d="M628,2576 Q640,2571 659,2578 Q668,2580 675,2583" stroke-width="3.5" fill="none"/>
<path d="M630,2581 Q645,2578 664,2583" stroke-width="3" fill="none"/>
<path d="M706,2546 Q700,2553 703,2563" stroke-width="2.5" fill="none"/>
<path d="M592,2582 L597,2591" stroke-width="7" fill="none"/>
<path d="M568,2620 L589,2592" stroke-width="3" fill="none"/>
<path d="M592,2586 L604,2593" stroke-width="7" fill="none"/>
<path d="M586,2613 L590,2622 L598,2622" stroke-width="3" fill="none"/>
<path d="M598,2621 Q606,2610 611,2606 Q620,2605 615,2616 Q608,2623 602,2625 L598,2622" stroke-width="3" fill="none"/>
<path d="M621,2621 L637,2603" stroke-width="3" fill="none"/>
<path d="M621,2621 L629,2621" stroke-width="2.5" fill="none"/>
<path d="M635,2618 L648,2604 L659,2589" stroke-width="4" fill="none"/>
<path d="M648,2617 L662,2609 L696,2594" stroke-width="4" fill="none"/>
<path d="M681,2607 L684,2614 L700,2612 L707,2615 L717,2615" stroke-width="3" fill="none"/>
<path d="M626,2628 L657,2624" stroke-width="3" fill="none"/>
<path d="M659,2629 L698,2626" stroke-width="4" fill="none"/>
<path d="M623,2586 L624,2591" stroke-width="3" fill="none"/>
<path d="M561,2672 L583,2662 L607,2652 L624,2652" stroke-width="3" fill="none"/>
<path d="M584,2659 L607,2641 L609,2637 L615,2636" stroke-width="3" fill="none"/>
<path d="M597,2665 L632,2635" stroke-width="3.5" fill="none"/>
<path d="M597,2662 L604,2658" stroke-width="6" fill="none"/>
<path d="M609,2672 Q630,2666 654,2660 Q668,2655 675,2646 Q674,2637 691,2630" stroke-width="3.5" fill="none"/>
<path d="M639,2642 L645,2640 L651,2643 L673,2641" stroke-width="3" fill="none"/>
<path d="M657,2667 L664,2676 L672,2677" stroke-width="4" fill="none"/>
<path d="M628,2677 L634,2669" stroke-width="5" fill="none"/>
<path d="M702,2661 L708,2672" stroke-width="5" fill="none"/>
<path d="M556,2671 L560,2668" stroke-width="4" fill="none"/>
<path d="M580,2681 L587,2694 L591,2705 L599,2713 L607,2709 L615,2701" stroke-width="3.5" fill="none"/>
<path d="M596,2682 L587,2694 L583,2705 L577,2714 L571,2711 L571,2705" stroke-width="3.5" fill="none"/>
<path d="M608,2695 L620,2697 L626,2696" stroke-width="5" fill="none"/>
<path d="M614,2701 Q618,2706 612,2707" stroke-width="3" fill="none"/>
<path d="M631,2709 L638,2701 L643,2709 L648,2711 L662,2700 L668,2705 L681,2697 L684,2701 L692,2697 L695,2700 L703,2697 L703,2689 L707,2689 L706,2705 L705,2716 L697,2722" stroke-width="3" fill="none"/>
<path d="M631,2709 L632,2718" stroke-width="3" fill="none"/>
<line x1="628.4" y1="2679" x2="628.6" y2="2738" stroke-width="5"/>
</g>
</svg></body></html>
